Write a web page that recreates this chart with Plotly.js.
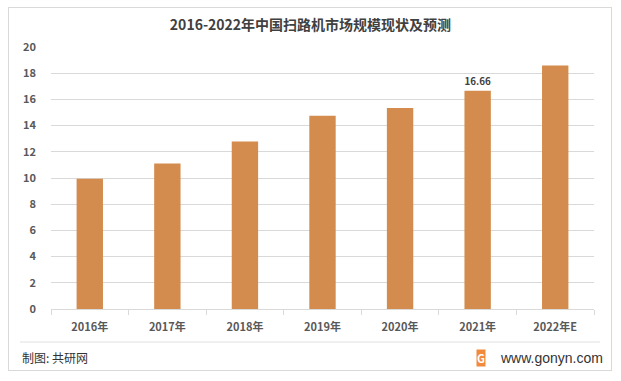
<!DOCTYPE html>
<html><head><meta charset="utf-8">
<script src="https://cdn.plot.ly/plotly-3.0.1.min.js"></script>
<style>
html,body{margin:0;padding:0;background:#fff;}
#wrap{position:relative;width:621px;height:381px;}
#chart{width:621px;height:381px;}
#frame{position:absolute;left:8px;top:7px;width:604px;height:364px;border:1px solid #d9d9d9;pointer-events:none;box-sizing:border-box;}
</style></head>
<body>
<div id="wrap"><div id="chart"></div><div id="frame"></div></div>
<script>
var categories = ["2016年","2017年","2018年","2019年","2020年","2021年","2022年E"];
var values = [9.95, 11.11, 12.79, 14.76, 15.35, 16.66, 18.58];
var labels = ["","","","","","16.66",""];
var yTicks = [0,2,4,6,8,10,12,14,16,18,20];

var font = "'Microsoft YaHei','Noto Sans CJK SC','Noto Sans',sans-serif";
var trace = {
  type: "bar",
  x: categories,
  y: values,
  text: labels,
  textposition: "outside",
  cliponaxis: false,
  textfont: {family: font, size: 12, color: "#404040", weight: "bold"},
  marker: {color: "#d38c4d"},
  hoverinfo: "none"
};
var layout = {
  width: 621, height: 381,
  margin: {l: 51, r: 27, t: 47, b: 72},
  paper_bgcolor: "#ffffff", plot_bgcolor: "#ffffff",
  bargap: 0.66,
  showlegend: false,
  title: {text: "<b>2016-2022年中国扫路机市场规模现状及预测</b>", x: 0.5, xanchor: "center", y: 0.935, yanchor: "middle",
          font: {family: font, size: 14, color: "#404040"}},
  xaxis: {
    type: "category",
    showgrid: false,
    showline: true, linecolor: "#d9d9d9", linewidth: 1,
    ticks: "outside", tickson: "boundaries", ticklen: 5, tickcolor: "#d9d9d9",
    ticklabelstandoff: 8,
    tickfont: {family: font, size: 11, color: "#595959", weight: "bold"},
    fixedrange: true
  },
  yaxis: {
    range: [0, 20],
    tickvals: yTicks,
    showgrid: true, gridcolor: "#d9d9d9", gridwidth: 1,
    zeroline: false, showline: false,
    ticks: "", ticklabelstandoff: 14,
    tickfont: {family: font, size: 11, color: "#595959", weight: "bold"},
    fixedrange: true
  },
  shapes: [
    {type: "line", xref: "paper", yref: "paper", x0: -0.057, x1: 1.011, y0: -0.126, y1: -0.126,
     line: {color: "#e0e0e0", width: 1}}
  ],
  annotations: [
    {xref: "paper", yref: "paper", x: -0.058, y: -0.187, xanchor: "left", yanchor: "middle", showarrow: false,
     text: "制图: 共研网", font: {family: font, size: 12, color: "#333333"}},
    {xref: "paper", yref: "paper", x: 1.02, y: -0.187, xanchor: "right", yanchor: "middle", showarrow: false,
     text: "www.gonyn.com", font: {family: "'Liberation Sans',Arial,sans-serif", size: 14, color: "#333333"}},
    {xref: "paper", yref: "paper", x: 0.792, y: -0.187, xanchor: "center", yanchor: "middle", showarrow: false,
     text: "<b>G</b>", bgcolor: "#f08a3c", borderpad: 0,
     font: {family: font, size: 11, color: "#ffffff"}}
  ]
};
Plotly.newPlot("chart", [trace], layout, {displayModeBar: false, staticPlot: true});
</script>
</body></html>
